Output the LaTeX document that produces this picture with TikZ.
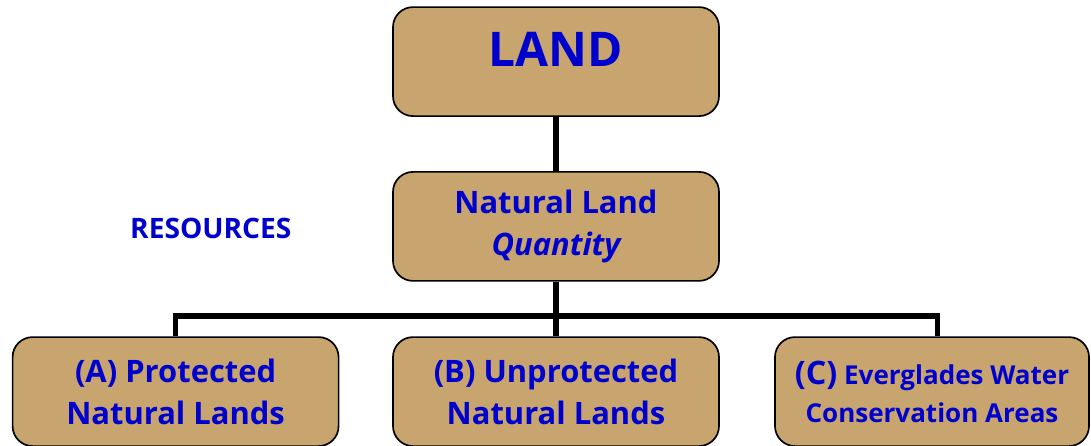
\documentclass[tikz,border=0pt]{standalone}
\usepackage{fontspec}
\setmainfont{Open Sans}
\usepackage{tikz}
\usetikzlibrary{positioning,calc}
\definecolor{tan}{HTML}{C8A56E}
\definecolor{ink}{HTML}{0000CC}
\tikzset{
  landbox/.style={rectangle,rounded corners=0.5cm,draw=black,line width=1.2pt,fill=tan,
    text=ink,font=\bfseries,align=center,minimum width=8.15cm,minimum height=2.725cm,inner sep=2pt},
  link/.style={line width=3.6pt,draw=black}
}

\begin{document}
\begin{tikzpicture}
  \useasboundingbox (0,0) rectangle (27.275,-11.15);
  \node[landbox,font=\bfseries\fontsize{34}{38}\selectfont,text depth=0.6cm] (land) at (13.9,-1.54) {LAND};
  \node[landbox,font=\bfseries\fontsize{22}{30}\selectfont] (nat) at (13.9,-5.66) {Natural Land\\\itshape Quantity};
  \node[landbox,font=\bfseries\fontsize{22}{30}\selectfont] (prot) at (4.39,-9.79) {(A) Protected\\Natural Lands};
  \node[landbox,font=\bfseries\fontsize{22}{30}\selectfont] (unprot) at (13.9,-9.79) {(B) Unprotected\\Natural Lands};
  \node[landbox,minimum width=7.85cm,font=\bfseries\fontsize{18.5}{27}\selectfont] (wca) at (23.3,-9.79) {{\fontsize{23}{27}\selectfont (C)} Everglades Water\\Conservation Areas};
  \node[text=ink,font=\bfseries\fontsize{20}{22}\selectfont] (res) at (5.27,-5.7) {RESOURCES};
  \coordinate (bus) at (0,-7.9);
  \draw[link] (land) -- (nat);
  \draw[link] (nat) -- (nat.south |- bus);
  \draw[link] (prot.north) -- (prot.north |- bus) -| ($(wca.north)+(0.13,0)$);
  \draw[link] (unprot.north) -- (unprot.north |- bus);
\end{tikzpicture}
\end{document}
